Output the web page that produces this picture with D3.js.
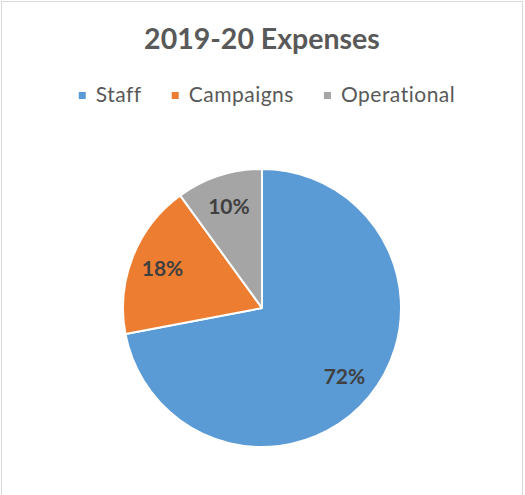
<!DOCTYPE html>
<html>
<head>
<meta charset="utf-8">
<script src="https://cdn.jsdelivr.net/npm/d3@7"></script>
<style>
  html, body { margin: 0; padding: 0; background: #fff; }
  svg { display: block; }
</style>
</head>
<body>
<svg id="chart" width="525" height="495"></svg>
<script>
// Expense breakdown for the 2019-20 year
const categories = ["Staff", "Campaigns", "Operational"];
const shares = [72, 18, 10];
const sliceColors = ["#5B9BD5", "#ED7D31", "#A5A5A5"];
const chartTitle = "2019-20 Expenses";

const W = 525, H = 495;
const svg = d3.select("#chart");
const font = "Lato, 'Open Sans', sans-serif";

// outer chart frame
svg.append("rect")
  .attr("x", 1.5).attr("y", 1.5)
  .attr("width", 521).attr("height", H + 10)
  .attr("fill", "#fff")
  .attr("stroke", "#d9d9d9")
  .attr("stroke-width", 1);

// title
svg.append("text")
  .attr("x", 262).attr("y", 49)
  .attr("text-anchor", "middle")
  .attr("font-family", font)
  .attr("font-weight", 700)
  .attr("font-size", 28.5)
  .attr("fill", "#595959")
  .text(chartTitle);

// legend
const color = d3.scaleOrdinal().domain(categories).range(sliceColors);
const legend = svg.append("g");
const items = legend.selectAll("g.item")
  .data(categories)
  .join("g").attr("class", "item");
items.append("rect")
  .attr("x", 0).attr("y", -10)
  .attr("width", 7).attr("height", 7)
  .attr("fill", d => color(d));
items.append("text")
  .attr("x", 17).attr("y", 0)
  .attr("font-family", font)
  .attr("font-size", 21)
  .attr("letter-spacing", 0.5)
  .attr("fill", "#595959")
  .text(d => d);
const gap = 30;
let cursor = 0;
items.each(function () {
  const g = d3.select(this);
  g.attr("transform", `translate(${cursor},0)`);
  cursor += 17 + g.select("text").node().getComputedTextLength() + gap;
});
const legendWidth = cursor - gap;
legend.attr("transform", `translate(${267 - legendWidth / 2},102)`);

// pie
const cx = 262, cy = 308, radius = 139;
const pie = d3.pie().sort(null).value(d => d.value);
const arcs = pie(categories.map((c, i) => ({ name: c, value: shares[i] })));
const arc = d3.arc().innerRadius(0).outerRadius(radius);
const labelArc = d3.arc().innerRadius(radius * 0.77).outerRadius(radius * 0.77);

const pieG = svg.append("g").attr("transform", `translate(${cx},${cy})`);
pieG.selectAll("path")
  .data(arcs)
  .join("path")
  .attr("d", arc)
  .attr("fill", d => color(d.data.name))
  .attr("stroke", "#fff")
  .attr("stroke-width", 2)
  .attr("stroke-linejoin", "round");

const total = d3.sum(shares);
pieG.selectAll("text")
  .data(arcs)
  .join("text")
  .attr("transform", d => `translate(${labelArc.centroid(d)})`)
  .attr("text-anchor", "middle")
  .attr("dy", "0.36em")
  .attr("font-family", font)
  .attr("font-weight", 700)
  .attr("font-size", 21)
  .attr("fill", "#404040")
  .text(d => `${Math.round(d.data.value / total * 100)}%`);
</script>
</body>
</html>
